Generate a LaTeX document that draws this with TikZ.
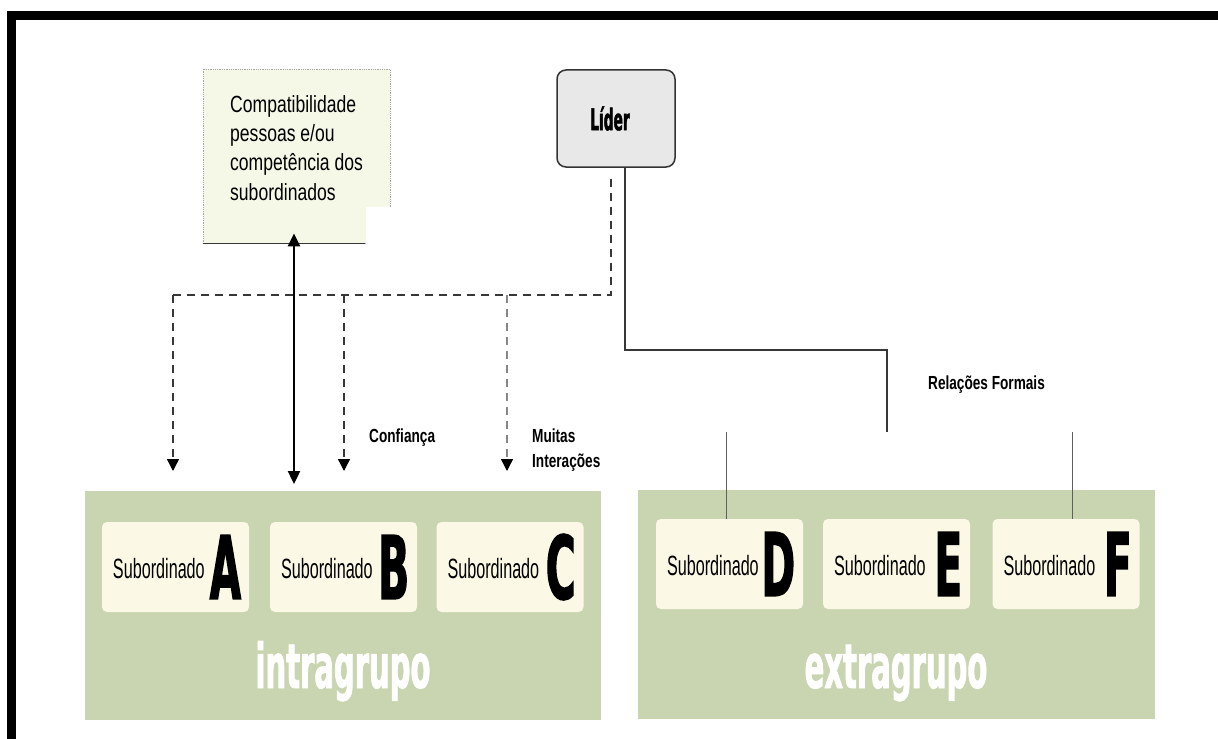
\documentclass[tikz,border=0pt]{standalone}
\usepackage{fontspec}
\setmainfont{Liberation Sans}
\newfontfamily\notefont[FakeStretch=0.75]{Liberation Sans}
\newfontfamily\subfont[FakeStretch=0.58]{Liberation Sans}
\newfontfamily\tagfont[FakeStretch=0.72]{Liberation Sans}
\newfontfamily\heavyfont[FakeStretch=0.46,FakeBold=1.5]{DejaVu Sans}
\newfontfamily\groupfont[FakeStretch=0.47,FakeBold=1.2]{DejaVu Sans}
\usetikzlibrary{arrows.meta,calc}

\definecolor{groupgreen}{RGB}{201,213,176}
\definecolor{subfill}{RGB}{251,249,229}
\definecolor{liderfill}{RGB}{232,232,232}
\definecolor{notefill}{RGB}{246,248,231}
\definecolor{linkgray}{RGB}{55,55,55}

\tikzset{
  groupbox/.style={fill=groupgreen, draw=none, anchor=north west, inner sep=0pt},
  subbox/.style={fill=subfill, draw=none, rounded corners=5bp, minimum width=147bp, minimum height=90bp, inner sep=0pt},
  subtext/.style={anchor=west, inner sep=0pt, font=\subfont\fontsize{28}{28}\selectfont},
  subletter/.style={anchor=east, inner sep=0pt, font=\heavyfont\bfseries\fontsize{88}{88}\selectfont},
  grouptitle/.style={anchor=base, inner sep=0pt, text=white, font=\groupfont\bfseries\fontsize{62}{62}\selectfont},
  tag/.style={anchor=base west, inner sep=0pt, font=\tagfont\bfseries\fontsize{19}{19}\selectfont},
  informal/.style={dashed, dash pattern=on 8bp off 6bp, line width=1.4bp, draw=linkgray},
  dashtip/.style={-{Triangle[width=12bp,length=12bp,color=black]}},
  twoway/.style={line width=2.4bp, {Triangle[width=12bp,length=13bp]}-{Triangle[width=12bp,length=13bp]}},
  formal/.style={line width=1.4bp, draw=linkgray},
  formalthin/.style={line width=1bp, draw=linkgray!80}
}

\begin{document}
\begin{tikzpicture}[x=1bp,y=-1bp]
\useasboundingbox (0,0) rectangle (1218,739);

% heavy frame along the left and top edges
\draw[line width=9bp, line join=miter] (11.5,739) -- (11.5,15.5) -- (1218,15.5);

% group panels
\node[groupbox, minimum width=516bp, minimum height=229bp] (intra) at (85,491) {};
\node[groupbox, minimum width=517bp, minimum height=229bp] (extra) at (638,490) {};

% subordinate cards
\node[subbox] (A) at (175.5,567) {};
\node[subbox] (B) at (343.5,567) {};
\node[subbox] (C) at (510,567) {};
\node[subbox] (D) at (729.5,564) {};
\node[subbox] (E) at (896.5,564) {};
\node[subbox] (F) at (1066,564) {};

\foreach \s in {A,B,C,D,E,F}{
  \node[subtext] (\s t) at ($(\s.west)+(11,2)$) {Subordinado};
  \node[subletter] (\s l) at ($(\s.east)+(-8,0)$) {\s};
}

% group titles
\node[grouptitle] (intratitle) at (343,688) {intragrupo};
\node[grouptitle] (extratitle) at (896,688) {extragrupo};

% note box
\node[fill=notefill, draw=gray!70, densely dotted, line width=0.8bp, minimum width=187bp, minimum height=174bp, inner sep=0pt] (note) at (296.5,156) {};
\fill[white] (366,207) rectangle (394,247);
\draw[line width=1.2bp, draw=linkgray] (note.south west) -- ($(note.south west)+(162,0)$);
\node[anchor=north west, inner sep=0pt, align=left, font=\notefont\fontsize{23.5}{29.5}\selectfont] (notetext) at (230,95)
  {Compatibilidade\\pessoas e/ou\\competência dos\\subordinados};

% leader
\node[fill=liderfill, draw=black!80, line width=1.5bp, rounded corners=9bp, minimum width=118bp, minimum height=97bp, inner sep=0pt,
      font=\heavyfont\bfseries\fontsize{30}{30}\selectfont] (lider) at (616,118.5) {\hspace*{-12bp}Líder};

% informal (dashed) relations towards the in-group
\coordinate (corner) at (611,295);
\coordinate (tA) at (173,471);
\coordinate (tB) at (344,471);
\coordinate (tC) at (507,471);
\draw[informal] ($(lider.south)+(-5,11)$) -- (corner) -- (corner -| tA);
\draw[informal, dashtip] (corner -| tA) -- (tA);
\draw[informal, dashtip] (corner -| tB) -- (tB);
\draw[informal, dashtip, draw=linkgray!60] (corner -| tC) -- (tC);

% two-way link between the note and the in-group
\coordinate (bothend) at (294,484);
\draw[twoway] (note.south -| bothend) ++(0,-10) -- (bothend);

% formal relations towards the out-group
\coordinate (fend) at (887,432);
\draw[formal] ($(lider.south)+(9,0)$) |- (625,350) -| (fend);
\coordinate (dtop) at (726,432);
\coordinate (ftop) at (1072,432);
\draw[formalthin] (dtop) -- (dtop |- D.north);
\draw[formalthin] (ftop) -- (ftop |- F.north);

% relation labels
\node[tag] (conf) at (369,442) {Confiança};
\node[tag] (muitas) at (532,442) {Muitas};
\node[tag] (inter) at (532,467) {Interações};
\node[tag] (formais) at (928,389) {Relações Formais};
\end{tikzpicture}
\end{document}
